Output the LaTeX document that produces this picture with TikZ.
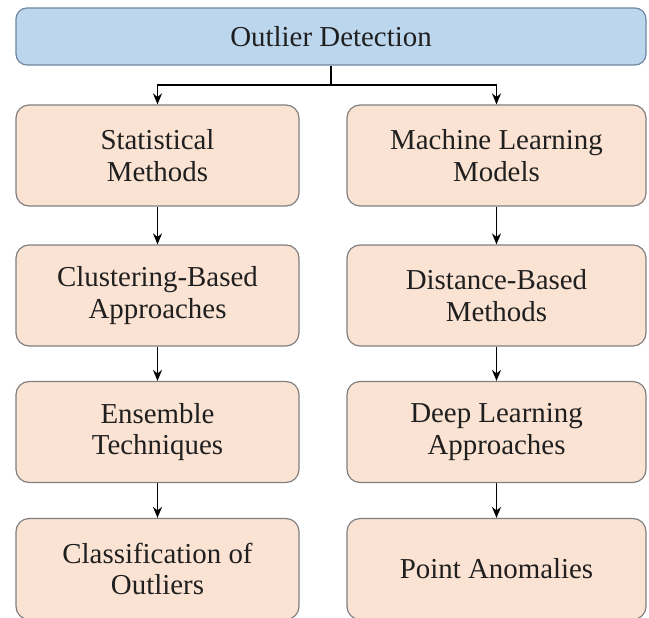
\documentclass[tikz,border=0pt]{standalone}
\usepackage{fontspec}
\setmainfont{Liberation Serif}
\usetikzlibrary{arrows.meta}
\definecolor{topblue}{HTML}{BCD6EE}
\definecolor{topline}{HTML}{6F87A2}
\definecolor{peach}{HTML}{FBE3D4}
\definecolor{boxline}{HTML}{808080}
\definecolor{txt}{HTML}{1F1F1F}
\tikzstyle{topbox} = [draw=topline,fill=topblue,line width=1.2bp,rounded corners=11bp,minimum width=630bp,minimum height=57bp,text=txt,font=\fontsize{29}{32}\selectfont]
\tikzstyle{box} = [draw=boxline,fill=peach,line width=1.2bp,rounded corners=13bp,minimum width=283bp,minimum height=101bp,align=center,text=txt,font=\fontsize{29}{32}\selectfont]
\tikzstyle{rbox} = [box,minimum width=299bp]
\tikzstyle{arrow} = [line width=1.6bp,-{Stealth[length=11bp,width=9bp]}]

\begin{document}
\begin{tikzpicture}[x=1bp,y=-1bp]
\useasboundingbox (0,0) rectangle (649,618);

\node[topbox] (od) at (331,36.5) {Outlier Detection};

\node[box] (sm) at (157.5,155.5) {Statistical\\Methods};
\node[box] (cb) at (157.5,295.5) {Clustering-Based\\Approaches};
\node[box] (et) at (157.5,432) {Ensemble\\Techniques};
\node[box] (co) at (157.5,569) {Classification of\\Outliers};

\node[rbox] (ml) at (496.5,155.5) {Machine Learning\\Models};
\node[rbox] (db) at (496.5,295.5) {Distance-Based\\Methods};
\node[rbox] (dl) at (496.5,432) {Deep Learning\\Approaches};
\node[rbox] (pa) at (496.5,569) {Point Anomalies};

\coordinate (split) at (331,85);
\draw[line width=1.6bp] (od.south) -- (split);
\draw[arrow] (split) -| (sm.north);
\draw[arrow] (split) -| (ml.north);

\draw[arrow] (sm) -- (cb);
\draw[arrow] (cb) -- (et);
\draw[arrow] (et) -- (co);
\draw[arrow] (ml) -- (db);
\draw[arrow] (db) -- (dl);
\draw[arrow] (dl) -- (pa);

\end{tikzpicture}
\end{document}
